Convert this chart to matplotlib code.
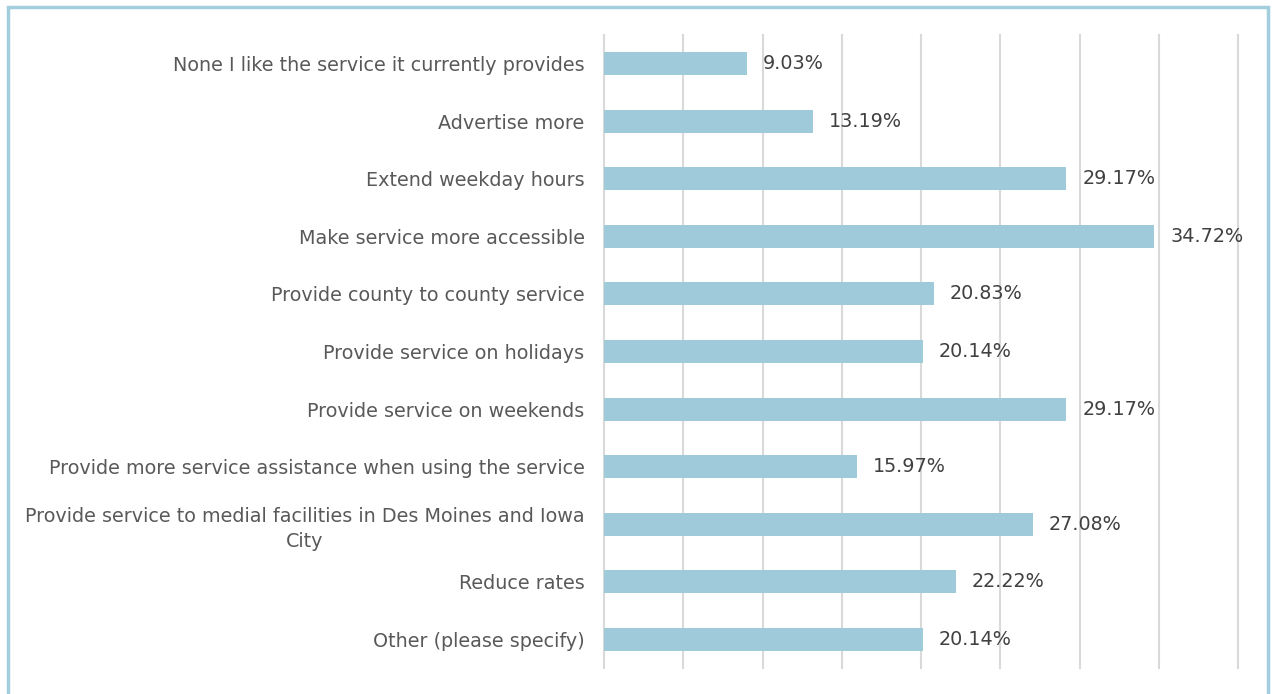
import matplotlib.pyplot as plt
from matplotlib.patches import Rectangle

categories = [
    "None I like the service it currently provides",
    "Advertise more",
    "Extend weekday hours",
    "Make service more accessible",
    "Provide county to county service",
    "Provide service on holidays",
    "Provide service on weekends",
    "Provide more service assistance when using the service",
    "Provide service to medial facilities in Des Moines and Iowa\nCity",
    "Reduce rates",
    "Other (please specify)",
]
values = [9.03, 13.19, 29.17, 34.72, 20.83, 20.14, 29.17, 15.97, 27.08, 22.22, 20.14]

bar_color = "#9ECAD9"
W, H = 1274, 694

fig = plt.figure(figsize=(W / 100, H / 100), dpi=100)
ax = fig.add_axes([604 / W, 1 - 668 / H, (1238 - 604) / W, (668 - 35) / H])

y = list(range(len(categories)))
ax.barh(y, values, height=0.4, color=bar_color, zorder=2)
ax.set_ylim(len(categories) - 0.5, -0.5)
ax.set_xlim(0, 40)
ax.set_xticks(range(0, 41, 5))
ax.set_xticklabels([])
ax.tick_params(axis="x", length=0)
ax.tick_params(axis="y", length=0, pad=14)
ax.set_yticks(y)
ax.set_yticklabels(categories, fontsize=13.8, color="#595959", linespacing=1.4)
for lbl in ax.get_yticklabels():
    lbl.set_horizontalalignment("right")
    lbl.set_multialignment("center")
ax.grid(axis="x", color="#D9D9D9", linewidth=1.5, zorder=0)
for gl in ax.get_xgridlines():
    gl.set_clip_on(False)
for s in ax.spines.values():
    s.set_visible(False)

for yi, v in zip(y, values):
    ax.text(v + 1.0, yi, f"{v:.2f}%", va="center", ha="left",
            fontsize=13.8, color="#404040")

# outer frame
fig.patches.append(Rectangle((7.5 / W, -0.05), (1267.5 - 7.5) / W, 1.05 - 6.5 / H,
                             transform=fig.transFigure, fill=False,
                             edgecolor="#A2CEDD", linewidth=2.5))

fig.savefig("out.png", dpi=100)
